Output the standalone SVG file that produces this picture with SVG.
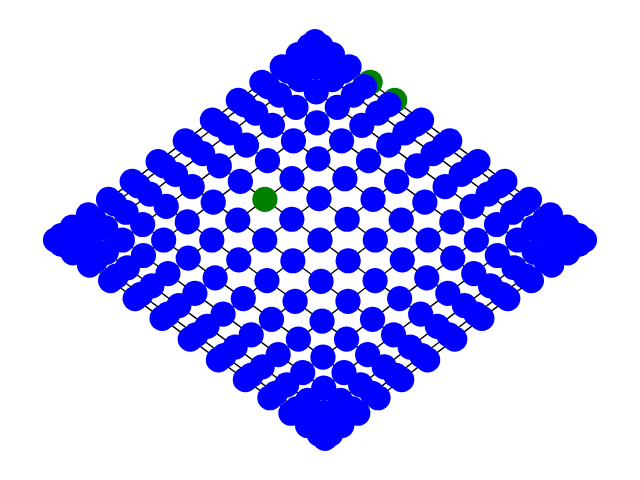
<svg xmlns="http://www.w3.org/2000/svg" width="640" height="480" viewBox="0 0 640 480">
<style>
.e{fill:none;stroke:#000;stroke-width:1.39}
circle{fill:#0000ff}
.g circle{fill:#008000}
</style>
<defs>
<path id="qline" class="e" d="M134.75,99.15 L128.86,94.82 L117.34,86.34 L100.69,74.09 L79.64,58.6 L55.11,40.55 L28.17,20.73 L0,0 L-28.17,-20.73 L-55.11,-40.55 L-79.64,-58.6 L-100.69,-74.09 L-117.34,-86.34 L-128.86,-94.82 L-134.75,-99.15"/>
<path id="pline" class="e" d="M129.75,-99.15 L124.08,-94.82 L112.99,-86.34 L96.95,-74.09 L76.68,-58.6 L53.07,-40.55 L27.13,-20.73 L0,0 L-27.13,20.73 L-53.07,40.55 L-76.68,58.6 L-96.95,74.09 L-112.99,86.34 L-124.08,94.82 L-129.75,99.15"/>
</defs>
<rect width="640" height="480" fill="#fff"/>
<g id="edges">
<use href="#qline" transform="translate(449.75,140.85)"/>
<use href="#qline" transform="translate(444.08,145.18)"/>
<use href="#qline" transform="translate(432.99,153.66)"/>
<use href="#qline" transform="translate(416.95,165.91)"/>
<use href="#qline" transform="translate(396.68,181.4)"/>
<use href="#qline" transform="translate(373.07,199.45)"/>
<use href="#qline" transform="translate(347.13,219.27)"/>
<use href="#qline" transform="translate(320,240)"/>
<use href="#qline" transform="translate(292.87,260.73)"/>
<use href="#qline" transform="translate(266.93,280.55)"/>
<use href="#qline" transform="translate(243.32,298.6)"/>
<use href="#qline" transform="translate(223.05,314.09)"/>
<use href="#qline" transform="translate(207.01,326.34)"/>
<use href="#qline" transform="translate(195.92,334.82)"/>
<use href="#qline" transform="translate(190.25,339.15)"/>
<use href="#pline" transform="translate(454.75,339.15)"/>
<use href="#pline" transform="translate(448.86,334.82)"/>
<use href="#pline" transform="translate(437.34,326.34)"/>
<use href="#pline" transform="translate(420.69,314.09)"/>
<use href="#pline" transform="translate(399.64,298.6)"/>
<use href="#pline" transform="translate(375.11,280.55)"/>
<use href="#pline" transform="translate(348.17,260.73)"/>
<use href="#pline" transform="translate(320,240)"/>
<use href="#pline" transform="translate(291.83,219.27)"/>
<use href="#pline" transform="translate(264.89,199.45)"/>
<use href="#pline" transform="translate(240.36,181.4)"/>
<use href="#pline" transform="translate(219.31,165.91)"/>
<use href="#pline" transform="translate(202.66,153.66)"/>
<use href="#pline" transform="translate(191.14,145.18)"/>
<use href="#pline" transform="translate(185.25,140.85)"/>
</g>
<g id="nodes">
<g id="row0" transform="translate(449.75,140.85)">
<g id="n0-0" transform="translate(134.75,99.15)"><circle r="12.6"/></g>
<g id="n0-1" transform="translate(128.86,94.82)"><circle r="12.6"/></g>
<g id="n0-2" transform="translate(117.34,86.34)"><circle r="12.6"/></g>
<g id="n0-3" transform="translate(100.69,74.09)"><circle r="12.6"/></g>
<g id="n0-4" transform="translate(79.64,58.6)"><circle r="12.6"/></g>
<g id="n0-5" transform="translate(55.11,40.55)"><circle r="12.6"/></g>
<g id="n0-6" transform="translate(28.17,20.73)"><circle r="12.6"/></g>
<g id="n0-7" transform="translate(0,0)"><circle r="12.6"/></g>
<g id="n0-8" transform="translate(-28.17,-20.73)"><circle r="12.6"/></g>
<g id="n0-9" class="g" transform="translate(-55.11,-40.55)"><circle r="12.6"/></g>
<g id="n0-10" class="g" transform="translate(-79.64,-58.6)"><circle r="12.6"/></g>
<g id="n0-11" transform="translate(-100.69,-74.09)"><circle r="12.6"/></g>
<g id="n0-12" transform="translate(-117.34,-86.34)"><circle r="12.6"/></g>
<g id="n0-13" transform="translate(-128.86,-94.82)"><circle r="12.6"/></g>
<g id="n0-14" transform="translate(-134.75,-99.15)"><circle r="12.6"/></g>
</g>
<g id="row1" transform="translate(444.08,145.18)">
<g id="n1-0" transform="translate(134.75,99.15)"><circle r="12.6"/></g>
<g id="n1-1" transform="translate(128.86,94.82)"><circle r="12.6"/></g>
<g id="n1-2" transform="translate(117.34,86.34)"><circle r="12.6"/></g>
<g id="n1-3" transform="translate(100.69,74.09)"><circle r="12.6"/></g>
<g id="n1-4" transform="translate(79.64,58.6)"><circle r="12.6"/></g>
<g id="n1-5" transform="translate(55.11,40.55)"><circle r="12.6"/></g>
<g id="n1-6" transform="translate(28.17,20.73)"><circle r="12.6"/></g>
<g id="n1-7" transform="translate(0,0)"><circle r="12.6"/></g>
<g id="n1-8" transform="translate(-28.17,-20.73)"><circle r="12.6"/></g>
<g id="n1-9" transform="translate(-55.11,-40.55)"><circle r="12.6"/></g>
<g id="n1-10" transform="translate(-79.64,-58.6)"><circle r="12.6"/></g>
<g id="n1-11" transform="translate(-100.69,-74.09)"><circle r="12.6"/></g>
<g id="n1-12" transform="translate(-117.34,-86.34)"><circle r="12.6"/></g>
<g id="n1-13" transform="translate(-128.86,-94.82)"><circle r="12.6"/></g>
<g id="n1-14" transform="translate(-134.75,-99.15)"><circle r="12.6"/></g>
</g>
<g id="row2" transform="translate(432.99,153.66)">
<g id="n2-0" transform="translate(134.75,99.15)"><circle r="12.6"/></g>
<g id="n2-1" transform="translate(128.86,94.82)"><circle r="12.6"/></g>
<g id="n2-2" transform="translate(117.34,86.34)"><circle r="12.6"/></g>
<g id="n2-3" transform="translate(100.69,74.09)"><circle r="12.6"/></g>
<g id="n2-4" transform="translate(79.64,58.6)"><circle r="12.6"/></g>
<g id="n2-5" transform="translate(55.11,40.55)"><circle r="12.6"/></g>
<g id="n2-6" transform="translate(28.17,20.73)"><circle r="12.6"/></g>
<g id="n2-7" transform="translate(0,0)"><circle r="12.6"/></g>
<g id="n2-8" transform="translate(-28.17,-20.73)"><circle r="12.6"/></g>
<g id="n2-9" transform="translate(-55.11,-40.55)"><circle r="12.6"/></g>
<g id="n2-10" transform="translate(-79.64,-58.6)"><circle r="12.6"/></g>
<g id="n2-11" transform="translate(-100.69,-74.09)"><circle r="12.6"/></g>
<g id="n2-12" transform="translate(-117.34,-86.34)"><circle r="12.6"/></g>
<g id="n2-13" transform="translate(-128.86,-94.82)"><circle r="12.6"/></g>
<g id="n2-14" transform="translate(-134.75,-99.15)"><circle r="12.6"/></g>
</g>
<g id="row3" transform="translate(416.95,165.91)">
<g id="n3-0" transform="translate(134.75,99.15)"><circle r="12.6"/></g>
<g id="n3-1" transform="translate(128.86,94.82)"><circle r="12.6"/></g>
<g id="n3-2" transform="translate(117.34,86.34)"><circle r="12.6"/></g>
<g id="n3-3" transform="translate(100.69,74.09)"><circle r="12.6"/></g>
<g id="n3-4" transform="translate(79.64,58.6)"><circle r="12.6"/></g>
<g id="n3-5" transform="translate(55.11,40.55)"><circle r="12.6"/></g>
<g id="n3-6" transform="translate(28.17,20.73)"><circle r="12.6"/></g>
<g id="n3-7" transform="translate(0,0)"><circle r="12.6"/></g>
<g id="n3-8" transform="translate(-28.17,-20.73)"><circle r="12.6"/></g>
<g id="n3-9" transform="translate(-55.11,-40.55)"><circle r="12.6"/></g>
<g id="n3-10" transform="translate(-79.64,-58.6)"><circle r="12.6"/></g>
<g id="n3-11" transform="translate(-100.69,-74.09)"><circle r="12.6"/></g>
<g id="n3-12" transform="translate(-117.34,-86.34)"><circle r="12.6"/></g>
<g id="n3-13" transform="translate(-128.86,-94.82)"><circle r="12.6"/></g>
<g id="n3-14" transform="translate(-134.75,-99.15)"><circle r="12.6"/></g>
</g>
<g id="row4" transform="translate(396.68,181.4)">
<g id="n4-0" transform="translate(134.75,99.15)"><circle r="12.6"/></g>
<g id="n4-1" transform="translate(128.86,94.82)"><circle r="12.6"/></g>
<g id="n4-2" transform="translate(117.34,86.34)"><circle r="12.6"/></g>
<g id="n4-3" transform="translate(100.69,74.09)"><circle r="12.6"/></g>
<g id="n4-4" transform="translate(79.64,58.6)"><circle r="12.6"/></g>
<g id="n4-5" transform="translate(55.11,40.55)"><circle r="12.6"/></g>
<g id="n4-6" transform="translate(28.17,20.73)"><circle r="12.6"/></g>
<g id="n4-7" transform="translate(0,0)"><circle r="12.6"/></g>
<g id="n4-8" transform="translate(-28.17,-20.73)"><circle r="12.6"/></g>
<g id="n4-9" transform="translate(-55.11,-40.55)"><circle r="12.6"/></g>
<g id="n4-10" transform="translate(-79.64,-58.6)"><circle r="12.6"/></g>
<g id="n4-11" transform="translate(-100.69,-74.09)"><circle r="12.6"/></g>
<g id="n4-12" transform="translate(-117.34,-86.34)"><circle r="12.6"/></g>
<g id="n4-13" transform="translate(-128.86,-94.82)"><circle r="12.6"/></g>
<g id="n4-14" transform="translate(-134.75,-99.15)"><circle r="12.6"/></g>
</g>
<g id="row5" transform="translate(373.07,199.45)">
<g id="n5-0" transform="translate(134.75,99.15)"><circle r="12.6"/></g>
<g id="n5-1" transform="translate(128.86,94.82)"><circle r="12.6"/></g>
<g id="n5-2" transform="translate(117.34,86.34)"><circle r="12.6"/></g>
<g id="n5-3" transform="translate(100.69,74.09)"><circle r="12.6"/></g>
<g id="n5-4" transform="translate(79.64,58.6)"><circle r="12.6"/></g>
<g id="n5-5" transform="translate(55.11,40.55)"><circle r="12.6"/></g>
<g id="n5-6" transform="translate(28.17,20.73)"><circle r="12.6"/></g>
<g id="n5-7" transform="translate(0,0)"><circle r="12.6"/></g>
<g id="n5-8" transform="translate(-28.17,-20.73)"><circle r="12.6"/></g>
<g id="n5-9" transform="translate(-55.11,-40.55)"><circle r="12.6"/></g>
<g id="n5-10" transform="translate(-79.64,-58.6)"><circle r="12.6"/></g>
<g id="n5-11" transform="translate(-100.69,-74.09)"><circle r="12.6"/></g>
<g id="n5-12" transform="translate(-117.34,-86.34)"><circle r="12.6"/></g>
<g id="n5-13" transform="translate(-128.86,-94.82)"><circle r="12.6"/></g>
<g id="n5-14" transform="translate(-134.75,-99.15)"><circle r="12.6"/></g>
</g>
<g id="row6" transform="translate(347.13,219.27)">
<g id="n6-0" transform="translate(134.75,99.15)"><circle r="12.6"/></g>
<g id="n6-1" transform="translate(128.86,94.82)"><circle r="12.6"/></g>
<g id="n6-2" transform="translate(117.34,86.34)"><circle r="12.6"/></g>
<g id="n6-3" transform="translate(100.69,74.09)"><circle r="12.6"/></g>
<g id="n6-4" transform="translate(79.64,58.6)"><circle r="12.6"/></g>
<g id="n6-5" transform="translate(55.11,40.55)"><circle r="12.6"/></g>
<g id="n6-6" transform="translate(28.17,20.73)"><circle r="12.6"/></g>
<g id="n6-7" transform="translate(0,0)"><circle r="12.6"/></g>
<g id="n6-8" transform="translate(-28.17,-20.73)"><circle r="12.6"/></g>
<g id="n6-9" transform="translate(-55.11,-40.55)"><circle r="12.6"/></g>
<g id="n6-10" transform="translate(-79.64,-58.6)"><circle r="12.6"/></g>
<g id="n6-11" transform="translate(-100.69,-74.09)"><circle r="12.6"/></g>
<g id="n6-12" transform="translate(-117.34,-86.34)"><circle r="12.6"/></g>
<g id="n6-13" transform="translate(-128.86,-94.82)"><circle r="12.6"/></g>
<g id="n6-14" transform="translate(-134.75,-99.15)"><circle r="12.6"/></g>
</g>
<g id="row7" transform="translate(320,240)">
<g id="n7-0" transform="translate(134.75,99.15)"><circle r="12.6"/></g>
<g id="n7-1" transform="translate(128.86,94.82)"><circle r="12.6"/></g>
<g id="n7-2" transform="translate(117.34,86.34)"><circle r="12.6"/></g>
<g id="n7-3" transform="translate(100.69,74.09)"><circle r="12.6"/></g>
<g id="n7-4" transform="translate(79.64,58.6)"><circle r="12.6"/></g>
<g id="n7-5" transform="translate(55.11,40.55)"><circle r="12.6"/></g>
<g id="n7-6" transform="translate(28.17,20.73)"><circle r="12.6"/></g>
<g id="n7-7" transform="translate(0,0)"><circle r="12.6"/></g>
<g id="n7-8" transform="translate(-28.17,-20.73)"><circle r="12.6"/></g>
<g id="n7-9" class="g" transform="translate(-55.11,-40.55)"><circle r="12.6"/></g>
<g id="n7-10" transform="translate(-79.64,-58.6)"><circle r="12.6"/></g>
<g id="n7-11" transform="translate(-100.69,-74.09)"><circle r="12.6"/></g>
<g id="n7-12" transform="translate(-117.34,-86.34)"><circle r="12.6"/></g>
<g id="n7-13" transform="translate(-128.86,-94.82)"><circle r="12.6"/></g>
<g id="n7-14" transform="translate(-134.75,-99.15)"><circle r="12.6"/></g>
</g>
<g id="row8" transform="translate(292.87,260.73)">
<g id="n8-0" transform="translate(134.75,99.15)"><circle r="12.6"/></g>
<g id="n8-1" transform="translate(128.86,94.82)"><circle r="12.6"/></g>
<g id="n8-2" transform="translate(117.34,86.34)"><circle r="12.6"/></g>
<g id="n8-3" transform="translate(100.69,74.09)"><circle r="12.6"/></g>
<g id="n8-4" transform="translate(79.64,58.6)"><circle r="12.6"/></g>
<g id="n8-5" transform="translate(55.11,40.55)"><circle r="12.6"/></g>
<g id="n8-6" transform="translate(28.17,20.73)"><circle r="12.6"/></g>
<g id="n8-7" transform="translate(0,0)"><circle r="12.6"/></g>
<g id="n8-8" transform="translate(-28.17,-20.73)"><circle r="12.6"/></g>
<g id="n8-9" transform="translate(-55.11,-40.55)"><circle r="12.6"/></g>
<g id="n8-10" transform="translate(-79.64,-58.6)"><circle r="12.6"/></g>
<g id="n8-11" transform="translate(-100.69,-74.09)"><circle r="12.6"/></g>
<g id="n8-12" transform="translate(-117.34,-86.34)"><circle r="12.6"/></g>
<g id="n8-13" transform="translate(-128.86,-94.82)"><circle r="12.6"/></g>
<g id="n8-14" transform="translate(-134.75,-99.15)"><circle r="12.6"/></g>
</g>
<g id="row9" transform="translate(266.93,280.55)">
<g id="n9-0" transform="translate(134.75,99.15)"><circle r="12.6"/></g>
<g id="n9-1" transform="translate(128.86,94.82)"><circle r="12.6"/></g>
<g id="n9-2" transform="translate(117.34,86.34)"><circle r="12.6"/></g>
<g id="n9-3" transform="translate(100.69,74.09)"><circle r="12.6"/></g>
<g id="n9-4" transform="translate(79.64,58.6)"><circle r="12.6"/></g>
<g id="n9-5" transform="translate(55.11,40.55)"><circle r="12.6"/></g>
<g id="n9-6" transform="translate(28.17,20.73)"><circle r="12.6"/></g>
<g id="n9-7" transform="translate(0,0)"><circle r="12.6"/></g>
<g id="n9-8" transform="translate(-28.17,-20.73)"><circle r="12.6"/></g>
<g id="n9-9" transform="translate(-55.11,-40.55)"><circle r="12.6"/></g>
<g id="n9-10" transform="translate(-79.64,-58.6)"><circle r="12.6"/></g>
<g id="n9-11" transform="translate(-100.69,-74.09)"><circle r="12.6"/></g>
<g id="n9-12" transform="translate(-117.34,-86.34)"><circle r="12.6"/></g>
<g id="n9-13" transform="translate(-128.86,-94.82)"><circle r="12.6"/></g>
<g id="n9-14" transform="translate(-134.75,-99.15)"><circle r="12.6"/></g>
</g>
<g id="row10" transform="translate(243.32,298.6)">
<g id="n10-0" transform="translate(134.75,99.15)"><circle r="12.6"/></g>
<g id="n10-1" transform="translate(128.86,94.82)"><circle r="12.6"/></g>
<g id="n10-2" transform="translate(117.34,86.34)"><circle r="12.6"/></g>
<g id="n10-3" transform="translate(100.69,74.09)"><circle r="12.6"/></g>
<g id="n10-4" transform="translate(79.64,58.6)"><circle r="12.6"/></g>
<g id="n10-5" transform="translate(55.11,40.55)"><circle r="12.6"/></g>
<g id="n10-6" transform="translate(28.17,20.73)"><circle r="12.6"/></g>
<g id="n10-7" transform="translate(0,0)"><circle r="12.6"/></g>
<g id="n10-8" transform="translate(-28.17,-20.73)"><circle r="12.6"/></g>
<g id="n10-9" transform="translate(-55.11,-40.55)"><circle r="12.6"/></g>
<g id="n10-10" transform="translate(-79.64,-58.6)"><circle r="12.6"/></g>
<g id="n10-11" transform="translate(-100.69,-74.09)"><circle r="12.6"/></g>
<g id="n10-12" transform="translate(-117.34,-86.34)"><circle r="12.6"/></g>
<g id="n10-13" transform="translate(-128.86,-94.82)"><circle r="12.6"/></g>
<g id="n10-14" transform="translate(-134.75,-99.15)"><circle r="12.6"/></g>
</g>
<g id="row11" transform="translate(223.05,314.09)">
<g id="n11-0" transform="translate(134.75,99.15)"><circle r="12.6"/></g>
<g id="n11-1" transform="translate(128.86,94.82)"><circle r="12.6"/></g>
<g id="n11-2" transform="translate(117.34,86.34)"><circle r="12.6"/></g>
<g id="n11-3" transform="translate(100.69,74.09)"><circle r="12.6"/></g>
<g id="n11-4" transform="translate(79.64,58.6)"><circle r="12.6"/></g>
<g id="n11-5" transform="translate(55.11,40.55)"><circle r="12.6"/></g>
<g id="n11-6" transform="translate(28.17,20.73)"><circle r="12.6"/></g>
<g id="n11-7" transform="translate(0,0)"><circle r="12.6"/></g>
<g id="n11-8" transform="translate(-28.17,-20.73)"><circle r="12.6"/></g>
<g id="n11-9" transform="translate(-55.11,-40.55)"><circle r="12.6"/></g>
<g id="n11-10" transform="translate(-79.64,-58.6)"><circle r="12.6"/></g>
<g id="n11-11" transform="translate(-100.69,-74.09)"><circle r="12.6"/></g>
<g id="n11-12" transform="translate(-117.34,-86.34)"><circle r="12.6"/></g>
<g id="n11-13" transform="translate(-128.86,-94.82)"><circle r="12.6"/></g>
<g id="n11-14" transform="translate(-134.75,-99.15)"><circle r="12.6"/></g>
</g>
<g id="row12" transform="translate(207.01,326.34)">
<g id="n12-0" transform="translate(134.75,99.15)"><circle r="12.6"/></g>
<g id="n12-1" transform="translate(128.86,94.82)"><circle r="12.6"/></g>
<g id="n12-2" transform="translate(117.34,86.34)"><circle r="12.6"/></g>
<g id="n12-3" transform="translate(100.69,74.09)"><circle r="12.6"/></g>
<g id="n12-4" transform="translate(79.64,58.6)"><circle r="12.6"/></g>
<g id="n12-5" transform="translate(55.11,40.55)"><circle r="12.6"/></g>
<g id="n12-6" transform="translate(28.17,20.73)"><circle r="12.6"/></g>
<g id="n12-7" transform="translate(0,0)"><circle r="12.6"/></g>
<g id="n12-8" transform="translate(-28.17,-20.73)"><circle r="12.6"/></g>
<g id="n12-9" transform="translate(-55.11,-40.55)"><circle r="12.6"/></g>
<g id="n12-10" transform="translate(-79.64,-58.6)"><circle r="12.6"/></g>
<g id="n12-11" transform="translate(-100.69,-74.09)"><circle r="12.6"/></g>
<g id="n12-12" transform="translate(-117.34,-86.34)"><circle r="12.6"/></g>
<g id="n12-13" transform="translate(-128.86,-94.82)"><circle r="12.6"/></g>
<g id="n12-14" transform="translate(-134.75,-99.15)"><circle r="12.6"/></g>
</g>
<g id="row13" transform="translate(195.92,334.82)">
<g id="n13-0" transform="translate(134.75,99.15)"><circle r="12.6"/></g>
<g id="n13-1" transform="translate(128.86,94.82)"><circle r="12.6"/></g>
<g id="n13-2" transform="translate(117.34,86.34)"><circle r="12.6"/></g>
<g id="n13-3" transform="translate(100.69,74.09)"><circle r="12.6"/></g>
<g id="n13-4" transform="translate(79.64,58.6)"><circle r="12.6"/></g>
<g id="n13-5" transform="translate(55.11,40.55)"><circle r="12.6"/></g>
<g id="n13-6" transform="translate(28.17,20.73)"><circle r="12.6"/></g>
<g id="n13-7" transform="translate(0,0)"><circle r="12.6"/></g>
<g id="n13-8" transform="translate(-28.17,-20.73)"><circle r="12.6"/></g>
<g id="n13-9" transform="translate(-55.11,-40.55)"><circle r="12.6"/></g>
<g id="n13-10" transform="translate(-79.64,-58.6)"><circle r="12.6"/></g>
<g id="n13-11" transform="translate(-100.69,-74.09)"><circle r="12.6"/></g>
<g id="n13-12" transform="translate(-117.34,-86.34)"><circle r="12.6"/></g>
<g id="n13-13" transform="translate(-128.86,-94.82)"><circle r="12.6"/></g>
<g id="n13-14" transform="translate(-134.75,-99.15)"><circle r="12.6"/></g>
</g>
<g id="row14" transform="translate(190.25,339.15)">
<g id="n14-0" transform="translate(134.75,99.15)"><circle r="12.6"/></g>
<g id="n14-1" transform="translate(128.86,94.82)"><circle r="12.6"/></g>
<g id="n14-2" transform="translate(117.34,86.34)"><circle r="12.6"/></g>
<g id="n14-3" transform="translate(100.69,74.09)"><circle r="12.6"/></g>
<g id="n14-4" transform="translate(79.64,58.6)"><circle r="12.6"/></g>
<g id="n14-5" transform="translate(55.11,40.55)"><circle r="12.6"/></g>
<g id="n14-6" transform="translate(28.17,20.73)"><circle r="12.6"/></g>
<g id="n14-7" transform="translate(0,0)"><circle r="12.6"/></g>
<g id="n14-8" transform="translate(-28.17,-20.73)"><circle r="12.6"/></g>
<g id="n14-9" transform="translate(-55.11,-40.55)"><circle r="12.6"/></g>
<g id="n14-10" transform="translate(-79.64,-58.6)"><circle r="12.6"/></g>
<g id="n14-11" transform="translate(-100.69,-74.09)"><circle r="12.6"/></g>
<g id="n14-12" transform="translate(-117.34,-86.34)"><circle r="12.6"/></g>
<g id="n14-13" transform="translate(-128.86,-94.82)"><circle r="12.6"/></g>
<g id="n14-14" transform="translate(-134.75,-99.15)"><circle r="12.6"/></g>
</g>
</g>
</svg>
